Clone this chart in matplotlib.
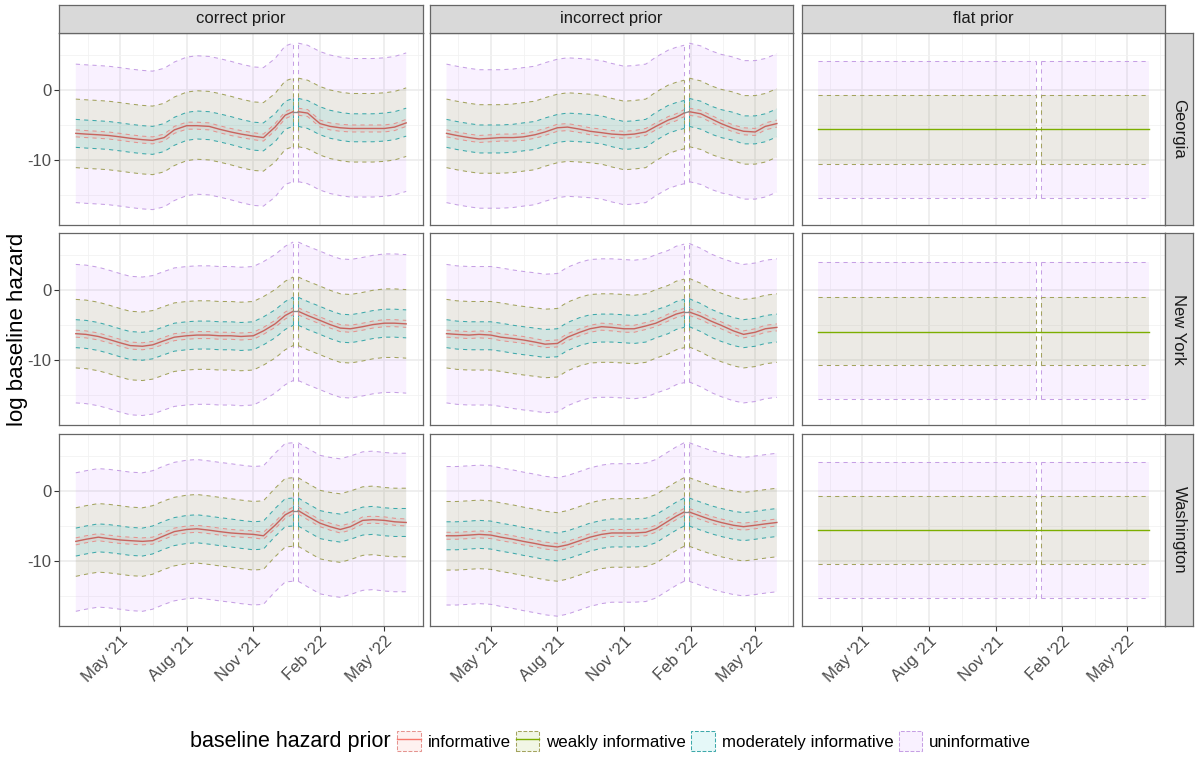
import matplotlib
matplotlib.use('Agg')
import matplotlib.pyplot as plt
import matplotlib.dates as mdates
from matplotlib.patches import Patch
from matplotlib.lines import Line2D
from matplotlib.colors import to_rgba
from matplotlib.ticker import FixedLocator
import datetime as dt

plt.rcParams['font.family'] = ['Liberation Sans', 'DejaVu Sans']
plt.rcParams['axes.unicode_minus'] = False

# ---------------- text ----------------
col_titles = ['correct prior', 'incorrect prior', 'flat prior']
row_titles = ['Georgia', 'New York', 'Washington']
legend_labels = ['informative', 'weakly informative', 'moderately informative', 'uninformative']
legend_title = 'baseline hazard prior'
y_label = 'log baseline hazard'
y_ticks = [-10, 0]
y_minor = [-15, -5, 5]

# ---------------- dates ----------------
dates_correct = ['2021-03-01', '2021-03-15', '2021-04-01', '2021-04-15', '2021-05-01', '2021-05-15',
                 '2021-06-01', '2021-06-15', '2021-07-01', '2021-07-15', '2021-08-01', '2021-08-15',
                 '2021-09-01', '2021-09-15', '2021-10-01', '2021-10-15', '2021-11-01', '2021-11-15',
                 '2021-12-01', '2021-12-15', '2021-12-26',
                 '2022-01-02', '2022-01-15', '2022-02-01', '2022-02-15', '2022-03-01', '2022-03-15',
                 '2022-04-01', '2022-04-15', '2022-05-01', '2022-05-15', '2022-05-31']
gap_correct = 21
dates_incorrect = ['2021-03-01', '2021-03-15', '2021-04-01', '2021-04-15', '2021-05-01', '2021-05-15',
                   '2021-06-01', '2021-06-15', '2021-07-01', '2021-07-15', '2021-08-01', '2021-08-15',
                   '2021-09-01', '2021-09-15', '2021-10-01', '2021-10-15', '2021-11-01', '2021-11-15',
                   '2021-12-01', '2021-12-15', '2022-01-01', '2022-01-12', '2022-01-23',
                   '2022-01-30', '2022-02-15', '2022-03-01', '2022-03-15', '2022-04-01', '2022-04-15',
                   '2022-05-01', '2022-05-15', '2022-05-31']
gap_incorrect = 23
dates_flat = ['2021-03-01', '2021-12-26', '2022-01-02', '2022-05-31']
gap_flat = 2

# ---------------- Georgia, correct prior ----------------
ga_cor_median = [-6.2,-6.3,-6.4,-6.5,-6.7,-6.9,-7.1,-7.2,-6.8,-5.7,-5.1,-5.1,-5.2,-5.6,-6.0,-6.3,-6.6,-6.8,-5.3,-3.6,-3.1,
                 -3.1,-3.3,-4.8,-5.2,-5.4,-5.5,-5.5,-5.5,-5.5,-5.3,-4.7]
ga_cor_inf_hi = [-5.7,-5.8,-5.9,-6.0,-6.2,-6.4,-6.6,-6.7,-6.3,-5.2,-4.6,-4.6,-4.7,-5.1,-5.5,-5.8,-6.1,-6.3,-4.8,-3.1,-2.6,
                 -2.6,-2.8,-4.3,-4.7,-4.9,-5.0,-5.0,-5.0,-5.0,-4.8,-4.2]
ga_cor_inf_lo = [-6.7,-6.8,-6.9,-7.0,-7.2,-7.4,-7.6,-7.7,-7.3,-6.2,-5.6,-5.6,-5.7,-6.1,-6.5,-6.8,-7.1,-7.3,-5.8,-4.1,-3.6,
                 -3.6,-3.8,-5.3,-5.7,-5.9,-6.0,-6.0,-6.0,-6.0,-5.8,-5.2]
ga_cor_mod_hi = [-4.2,-4.3,-4.4,-4.5,-4.7,-4.9,-5.1,-5.2,-4.8,-3.9,-3.2,-3.0,-3.1,-3.4,-3.8,-4.2,-4.6,-4.7,-3.4,-1.6,-1.2,
                 -1.2,-1.5,-2.4,-2.9,-3.2,-3.4,-3.4,-3.4,-3.3,-3.1,-2.6]
ga_cor_mod_lo = [-8.2,-8.3,-8.4,-8.5,-8.7,-8.9,-9.1,-9.2,-8.8,-7.9,-7.2,-7.0,-7.1,-7.4,-7.8,-8.2,-8.6,-8.7,-7.4,-5.6,-5.2,
                 -5.2,-5.5,-6.4,-6.9,-7.2,-7.4,-7.4,-7.4,-7.3,-7.1,-6.6]
ga_cor_weak_hi = [-1.3,-1.4,-1.5,-1.6,-1.8,-2.0,-2.2,-2.3,-1.9,-1.0,-0.3,-0.1,-0.2,-0.5,-0.9,-1.3,-1.7,-1.8,-0.5,1.3,1.7,
                  1.7,1.4,0.5,0.0,-0.3,-0.5,-0.5,-0.5,-0.4,-0.2,0.3]
ga_cor_weak_lo = [-11.1,-11.2,-11.3,-11.4,-11.6,-11.8,-12.0,-12.1,-11.7,-10.8,-10.1,-9.9,-10.0,-10.3,-10.7,-11.1,-11.5,-11.6,-10.3,-8.5,-8.1,
                  -8.1,-8.4,-9.3,-9.8,-10.1,-10.3,-10.3,-10.3,-10.2,-10.0,-9.5]
ga_cor_unif_hi = [3.7,3.6,3.5,3.4,3.2,3.0,2.8,2.7,3.1,4.0,4.7,4.9,4.8,4.5,4.1,3.7,3.3,3.2,4.5,6.3,6.7,
                  6.7,6.4,5.5,5.0,4.7,4.5,4.5,4.5,4.6,4.8,5.3]
ga_cor_unif_lo = [-16.1,-16.2,-16.3,-16.4,-16.6,-16.8,-17.0,-17.1,-16.7,-15.8,-15.1,-14.9,-15.0,-15.3,-15.7,-16.1,-16.5,-16.6,-15.3,-13.5,-13.1,
                  -13.1,-13.4,-14.3,-14.8,-15.1,-15.3,-15.3,-15.3,-15.2,-15.0,-14.5]

# ---------------- Georgia, incorrect prior ----------------
ga_inc_median = [-6.2,-6.5,-6.8,-7.0,-6.9,-6.8,-6.8,-6.7,-6.4,-6.0,-5.4,-5.3,-5.6,-5.9,-6.1,-6.3,-6.4,-6.3,-6.0,-5.2,-4.3,-3.9,-3.3,
                 -3.1,-3.4,-4.1,-4.8,-5.5,-5.9,-6.0,-5.2,-4.8]
ga_inc_inf_hi = [-5.7,-6.0,-6.3,-6.5,-6.4,-6.3,-6.3,-6.2,-5.9,-5.5,-4.9,-4.8,-5.1,-5.4,-5.6,-5.8,-5.9,-5.8,-5.5,-4.7,-3.8,-3.4,-2.8,
                 -2.6,-2.9,-3.6,-4.3,-5.0,-5.4,-5.5,-4.7,-4.3]
ga_inc_inf_lo = [-6.7,-7.0,-7.3,-7.5,-7.4,-7.3,-7.3,-7.2,-6.9,-6.5,-5.9,-5.8,-6.1,-6.4,-6.6,-6.8,-6.9,-6.8,-6.5,-5.7,-4.8,-4.4,-3.8,
                 -3.6,-3.9,-4.6,-5.3,-6.0,-6.4,-6.5,-5.7,-5.3]
ga_inc_mod_hi = [-4.2,-4.5,-4.8,-5.0,-5.0,-5.0,-4.9,-4.7,-4.5,-4.0,-3.5,-3.3,-3.4,-3.5,-3.7,-4.1,-4.5,-4.4,-4.2,-3.2,-2.2,-1.8,-1.5,
                 -1.2,-1.6,-2.3,-2.8,-3.2,-3.7,-3.7,-3.4,-2.7]
ga_inc_mod_lo = [-8.2,-8.5,-8.8,-9.0,-9.0,-9.0,-8.9,-8.7,-8.5,-8.0,-7.5,-7.3,-7.4,-7.5,-7.7,-8.1,-8.5,-8.4,-8.2,-7.2,-6.2,-5.8,-5.5,
                 -5.2,-5.6,-6.3,-6.8,-7.2,-7.7,-7.7,-7.4,-6.7]
ga_inc_weak_hi = [-1.3,-1.6,-1.9,-2.1,-2.1,-2.1,-2.0,-1.8,-1.6,-1.1,-0.6,-0.4,-0.5,-0.6,-0.8,-1.2,-1.6,-1.5,-1.3,-0.3,0.7,1.1,1.4,
                  1.7,1.3,0.6,0.1,-0.3,-0.8,-0.8,-0.5,0.2]
ga_inc_weak_lo = [-11.1,-11.4,-11.7,-11.9,-11.9,-11.9,-11.8,-11.6,-11.4,-10.9,-10.4,-10.2,-10.3,-10.4,-10.6,-11.0,-11.4,-11.3,-11.1,-10.1,-9.1,-8.7,-8.4,
                  -8.1,-8.5,-9.2,-9.7,-10.1,-10.6,-10.6,-10.3,-9.6]
ga_inc_unif_hi = [3.7,3.4,3.1,2.9,2.9,2.9,3.0,3.2,3.4,3.9,4.4,4.6,4.5,4.4,4.2,3.8,3.4,3.5,3.7,4.7,5.7,6.1,6.4,
                  6.7,6.3,5.6,5.1,4.7,4.2,4.2,4.5,5.2]
ga_inc_unif_lo = [-16.1,-16.4,-16.7,-16.9,-16.9,-16.9,-16.8,-16.6,-16.4,-15.9,-15.4,-15.2,-15.3,-15.4,-15.6,-16.0,-16.4,-16.3,-16.1,-15.1,-14.1,-13.7,-13.4,
                  -13.1,-13.5,-14.2,-14.7,-15.1,-15.6,-15.6,-15.3,-14.6]

# ---------------- New York, correct prior ----------------
ny_cor_median = [-6.2,-6.3,-6.6,-7.0,-7.5,-7.9,-8.0,-7.8,-7.2,-6.7,-6.5,-6.4,-6.4,-6.5,-6.5,-6.6,-6.5,-5.8,-4.8,-3.6,-3.0,
                 -3.0,-3.6,-4.3,-4.9,-5.4,-5.5,-5.2,-4.9,-4.7,-4.7,-4.8]
ny_cor_inf_hi = [-5.7,-5.8,-6.1,-6.5,-7.0,-7.4,-7.5,-7.3,-6.7,-6.2,-6.0,-5.9,-5.9,-6.0,-6.0,-6.1,-6.0,-5.3,-4.3,-3.1,-2.5,
                 -2.5,-3.1,-3.8,-4.4,-4.9,-5.0,-4.7,-4.4,-4.2,-4.2,-4.3]
ny_cor_inf_lo = [-6.7,-6.8,-7.1,-7.5,-8.0,-8.4,-8.5,-8.3,-7.7,-7.2,-7.0,-6.9,-6.9,-7.0,-7.0,-7.1,-7.0,-6.3,-5.3,-4.1,-3.5,
                 -3.5,-4.1,-4.8,-5.4,-5.9,-6.0,-5.7,-5.4,-5.2,-5.2,-5.3]
ny_cor_mod_hi = [-4.2,-4.3,-4.6,-5.0,-5.5,-5.9,-6.0,-5.8,-5.2,-4.7,-4.5,-4.4,-4.4,-4.5,-4.5,-4.6,-4.5,-3.8,-2.8,-1.6,-1.0,
                 -1.0,-1.6,-2.3,-2.9,-3.4,-3.5,-3.2,-2.9,-2.7,-2.7,-2.8]
ny_cor_mod_lo = [-8.2,-8.3,-8.6,-9.0,-9.5,-9.9,-10.0,-9.8,-9.2,-8.7,-8.5,-8.4,-8.4,-8.5,-8.5,-8.6,-8.5,-7.8,-6.8,-5.6,-5.0,
                 -5.0,-5.6,-6.3,-6.9,-7.4,-7.5,-7.2,-6.9,-6.7,-6.7,-6.8]
ny_cor_weak_hi = [-1.3,-1.4,-1.7,-2.1,-2.6,-3.0,-3.1,-2.9,-2.3,-1.8,-1.6,-1.5,-1.5,-1.6,-1.6,-1.7,-1.6,-0.9,0.1,1.3,1.9,
                  1.9,1.3,0.6,0.0,-0.5,-0.6,-0.3,0.0,0.2,0.2,0.1]
ny_cor_weak_lo = [-11.1,-11.2,-11.5,-11.9,-12.4,-12.8,-12.9,-12.7,-12.1,-11.6,-11.4,-11.3,-11.3,-11.4,-11.4,-11.5,-11.4,-10.7,-9.7,-8.5,-7.9,
                  -7.9,-8.5,-9.2,-9.8,-10.3,-10.4,-10.1,-9.8,-9.6,-9.6,-9.7]
ny_cor_unif_hi = [3.7,3.6,3.3,2.9,2.4,2.0,1.9,2.1,2.7,3.2,3.4,3.5,3.5,3.4,3.4,3.3,3.4,4.1,5.1,6.3,6.9,
                  6.9,6.3,5.6,5.0,4.5,4.4,4.7,5.0,5.2,5.2,5.1]
ny_cor_unif_lo = [-16.1,-16.2,-16.5,-16.9,-17.4,-17.8,-17.9,-17.7,-17.1,-16.6,-16.4,-16.3,-16.3,-16.4,-16.4,-16.5,-16.4,-15.7,-14.7,-13.5,-12.9,
                  -12.9,-13.5,-14.2,-14.8,-15.3,-15.4,-15.1,-14.8,-14.6,-14.6,-14.7]

# ---------------- New York, incorrect prior ----------------
ny_inc_median = [-6.2,-6.3,-6.4,-6.3,-6.4,-6.7,-6.9,-7.1,-7.4,-7.7,-7.6,-6.7,-6.0,-5.5,-5.2,-5.3,-5.5,-5.5,-5.1,-4.7,-3.9,-3.4,-3.1,
                 -3.1,-3.7,-4.4,-5.0,-5.8,-6.3,-6.0,-5.5,-5.3]
ny_inc_inf_hi = [-5.7,-5.8,-5.9,-5.8,-5.9,-6.2,-6.4,-6.6,-6.9,-7.2,-7.1,-6.2,-5.5,-5.0,-4.7,-4.8,-5.0,-5.0,-4.6,-4.2,-3.4,-2.9,-2.6,
                 -2.6,-3.2,-3.9,-4.5,-5.3,-5.8,-5.5,-5.0,-4.8]
ny_inc_inf_lo = [-6.7,-6.8,-6.9,-6.8,-6.9,-7.2,-7.4,-7.6,-7.9,-8.2,-8.1,-7.2,-6.5,-6.0,-5.7,-5.8,-6.0,-6.0,-5.6,-5.2,-4.4,-3.9,-3.6,
                 -3.6,-4.2,-4.9,-5.5,-6.3,-6.8,-6.5,-6.0,-5.8]
ny_inc_mod_hi = [-4.2,-4.4,-4.5,-4.5,-4.5,-4.7,-5.0,-5.2,-5.4,-5.6,-5.5,-4.6,-3.9,-3.5,-3.4,-3.4,-3.5,-3.6,-3.4,-2.8,-2.2,-1.6,-1.3,
                 -1.2,-1.9,-2.7,-3.3,-3.9,-4.2,-4.0,-3.6,-3.4]
ny_inc_mod_lo = [-8.2,-8.4,-8.5,-8.5,-8.5,-8.7,-9.0,-9.2,-9.4,-9.6,-9.5,-8.6,-7.9,-7.5,-7.4,-7.4,-7.5,-7.6,-7.4,-6.8,-6.2,-5.6,-5.3,
                 -5.2,-5.9,-6.7,-7.3,-7.9,-8.2,-8.0,-7.6,-7.4]
ny_inc_weak_hi = [-1.3,-1.5,-1.6,-1.6,-1.6,-1.8,-2.1,-2.3,-2.5,-2.7,-2.6,-1.7,-1.0,-0.6,-0.5,-0.5,-0.6,-0.7,-0.5,0.1,0.7,1.3,1.6,
                  1.7,1.0,0.2,-0.4,-1.0,-1.3,-1.1,-0.7,-0.5]
ny_inc_weak_lo = [-11.1,-11.3,-11.4,-11.4,-11.4,-11.6,-11.9,-12.1,-12.3,-12.5,-12.4,-11.5,-10.8,-10.4,-10.3,-10.3,-10.4,-10.5,-10.3,-9.7,-9.1,-8.5,-8.2,
                  -8.1,-8.8,-9.6,-10.2,-10.8,-11.1,-10.9,-10.5,-10.3]
ny_inc_unif_hi = [3.7,3.5,3.4,3.4,3.4,3.2,2.9,2.7,2.5,2.3,2.4,3.3,4.0,4.4,4.5,4.5,4.4,4.3,4.5,5.1,5.7,6.3,6.6,
                  6.7,6.0,5.2,4.6,4.0,3.7,3.9,4.3,4.5]
ny_inc_unif_lo = [-16.1,-16.3,-16.4,-16.4,-16.4,-16.6,-16.9,-17.1,-17.3,-17.5,-17.4,-16.5,-15.8,-15.4,-15.3,-15.3,-15.4,-15.5,-15.3,-14.7,-14.1,-13.5,-13.2,
                  -13.1,-13.8,-14.6,-15.2,-15.8,-16.1,-15.9,-15.5,-15.3]

# ---------------- Washington, correct prior ----------------
wa_cor_median = [-7.2,-6.9,-6.6,-6.8,-7.0,-7.1,-7.2,-7.1,-6.4,-5.8,-5.5,-5.4,-5.6,-5.8,-6.0,-6.1,-6.2,-6.4,-4.9,-3.4,-2.8,
                 -2.8,-3.6,-4.6,-5.1,-5.5,-5.1,-4.2,-4.1,-4.2,-4.4,-4.5]
wa_cor_inf_hi = [-6.7,-6.4,-6.1,-6.3,-6.5,-6.6,-6.7,-6.6,-5.9,-5.3,-5.0,-4.9,-5.1,-5.3,-5.5,-5.6,-5.7,-5.9,-4.4,-2.9,-2.3,
                 -2.3,-3.1,-4.1,-4.6,-5.0,-4.6,-3.7,-3.6,-3.7,-3.9,-4.0]
wa_cor_inf_lo = [-7.7,-7.4,-7.1,-7.3,-7.5,-7.6,-7.7,-7.6,-6.9,-6.3,-6.0,-5.9,-6.1,-6.3,-6.5,-6.6,-6.7,-6.9,-5.4,-3.9,-3.3,
                 -3.3,-4.1,-5.1,-5.6,-6.0,-5.6,-4.7,-4.6,-4.7,-4.9,-5.0]
wa_cor_mod_hi = [-5.3,-5.0,-4.7,-4.8,-5.0,-5.2,-5.3,-5.0,-4.3,-3.8,-3.5,-3.4,-3.6,-3.8,-4.0,-4.2,-4.4,-4.3,-2.5,-1.1,-1.0,
                 -1.0,-1.8,-2.8,-3.1,-3.3,-2.9,-2.3,-2.2,-2.4,-2.5,-2.5]
wa_cor_mod_lo = [-9.3,-9.0,-8.7,-8.8,-9.0,-9.2,-9.3,-9.0,-8.3,-7.8,-7.5,-7.4,-7.6,-7.8,-8.0,-8.2,-8.4,-8.3,-6.5,-5.1,-5.0,
                 -5.0,-5.8,-6.8,-7.1,-7.3,-6.9,-6.3,-6.2,-6.4,-6.5,-6.5]
wa_cor_weak_hi = [-2.4,-2.1,-1.8,-1.9,-2.1,-2.3,-2.4,-2.1,-1.4,-0.9,-0.6,-0.5,-0.7,-0.9,-1.1,-1.3,-1.5,-1.4,0.4,1.8,1.9,
                  1.9,1.1,0.1,-0.2,-0.4,0.0,0.6,0.7,0.5,0.4,0.4]
wa_cor_weak_lo = [-12.2,-11.9,-11.6,-11.7,-11.9,-12.1,-12.2,-11.9,-11.2,-10.7,-10.4,-10.3,-10.5,-10.7,-10.9,-11.1,-11.3,-11.2,-9.4,-8.0,-7.9,
                  -7.9,-8.7,-9.7,-10.0,-10.2,-9.8,-9.2,-9.1,-9.3,-9.4,-9.4]
wa_cor_unif_hi = [2.6,2.9,3.2,3.1,2.9,2.7,2.6,2.9,3.6,4.1,4.4,4.5,4.3,4.1,3.9,3.7,3.5,3.6,5.4,6.8,6.9,
                  6.9,6.1,5.1,4.8,4.6,5.0,5.6,5.7,5.5,5.4,5.4]
wa_cor_unif_lo = [-17.2,-16.9,-16.6,-16.7,-16.9,-17.1,-17.2,-16.9,-16.2,-15.7,-15.4,-15.3,-15.5,-15.7,-15.9,-16.1,-16.3,-16.2,-14.4,-13.0,-12.9,
                  -12.9,-13.7,-14.7,-15.0,-15.2,-14.8,-14.2,-14.1,-14.3,-14.4,-14.4]

# ---------------- Washington, incorrect prior ----------------
wa_inc_median = [-6.4,-6.4,-6.3,-6.2,-6.3,-6.6,-6.9,-7.2,-7.5,-7.8,-8.0,-7.7,-7.1,-6.6,-6.2,-6.0,-6.0,-6.0,-5.9,-5.4,-4.3,-3.6,-3.0,
                 -3.0,-3.6,-4.1,-4.5,-4.9,-5.1,-4.9,-4.7,-4.5]
wa_inc_inf_hi = [-5.9,-5.9,-5.8,-5.7,-5.8,-6.1,-6.4,-6.7,-7.0,-7.3,-7.5,-7.2,-6.6,-6.1,-5.7,-5.5,-5.5,-5.5,-5.4,-4.9,-3.8,-3.1,-2.5,
                 -2.5,-3.1,-3.6,-4.0,-4.4,-4.6,-4.4,-4.2,-4.0]
wa_inc_inf_lo = [-6.9,-6.9,-6.8,-6.7,-6.8,-7.1,-7.4,-7.7,-8.0,-8.3,-8.5,-8.2,-7.6,-7.1,-6.7,-6.5,-6.5,-6.5,-6.4,-5.9,-4.8,-4.1,-3.5,
                 -3.5,-4.1,-4.6,-5.0,-5.4,-5.6,-5.4,-5.2,-5.0]
wa_inc_mod_hi = [-4.4,-4.4,-4.3,-4.2,-4.3,-4.6,-4.9,-5.2,-5.5,-5.8,-6.0,-5.7,-5.1,-4.6,-4.2,-4.0,-4.0,-4.0,-3.9,-3.4,-2.3,-1.6,-1.0,
                 -1.0,-1.6,-2.1,-2.5,-2.9,-3.1,-2.9,-2.7,-2.5]
wa_inc_mod_lo = [-8.4,-8.4,-8.3,-8.2,-8.3,-8.6,-8.9,-9.2,-9.5,-9.8,-10.0,-9.7,-9.1,-8.6,-8.2,-8.0,-8.0,-8.0,-7.9,-7.4,-6.3,-5.6,-5.0,
                 -5.0,-5.6,-6.1,-6.5,-6.9,-7.1,-6.9,-6.7,-6.5]
wa_inc_weak_hi = [-1.5,-1.5,-1.4,-1.3,-1.4,-1.7,-2.0,-2.3,-2.6,-2.9,-3.1,-2.8,-2.2,-1.7,-1.3,-1.1,-1.1,-1.1,-1.0,-0.5,0.6,1.3,1.9,
                  1.9,1.3,0.8,0.4,0.0,-0.2,0.0,0.2,0.4]
wa_inc_weak_lo = [-11.3,-11.3,-11.2,-11.1,-11.2,-11.5,-11.8,-12.1,-12.4,-12.7,-12.9,-12.6,-12.0,-11.5,-11.1,-10.9,-10.9,-10.9,-10.8,-10.3,-9.2,-8.5,-7.9,
                  -7.9,-8.5,-9.0,-9.4,-9.8,-10.0,-9.8,-9.6,-9.4]
wa_inc_unif_hi = [3.5,3.5,3.6,3.7,3.6,3.3,3.0,2.7,2.4,2.1,1.9,2.2,2.8,3.3,3.7,3.9,3.9,3.9,4.0,4.5,5.6,6.3,6.9,
                  6.9,6.3,5.8,5.4,5.0,4.8,5.0,5.2,5.4]
wa_inc_unif_lo = [-16.3,-16.3,-16.2,-16.1,-16.2,-16.5,-16.8,-17.1,-17.4,-17.7,-17.9,-17.6,-17.0,-16.5,-16.1,-15.9,-15.9,-15.9,-15.8,-15.3,-14.2,-13.5,-12.9,
                  -12.9,-13.5,-14.0,-14.4,-14.8,-15.0,-14.8,-14.6,-14.4]

# ---------------- flat prior (constant) ----------------
ga_flat_median = [-5.6, -5.6, -5.6, -5.6]
ga_flat_weak_hi = [-0.7, -0.7, -0.7, -0.7]
ga_flat_weak_lo = [-10.6, -10.6, -10.6, -10.6]
ga_flat_unif_hi = [4.2, 4.2, 4.2, 4.2]
ga_flat_unif_lo = [-15.5, -15.5, -15.5, -15.5]
ny_flat_median = [-5.9, -5.9, -5.9, -5.9]
ny_flat_weak_hi = [-1.0, -1.0, -1.0, -1.0]
ny_flat_weak_lo = [-10.7, -10.7, -10.7, -10.7]
ny_flat_unif_hi = [4.1, 4.1, 4.1, 4.1]
ny_flat_unif_lo = [-15.6, -15.6, -15.6, -15.6]
wa_flat_median = [-5.6, -5.6, -5.6, -5.6]
wa_flat_weak_hi = [-0.7, -0.7, -0.7, -0.7]
wa_flat_weak_lo = [-10.4, -10.4, -10.4, -10.4]
wa_flat_unif_hi = [4.2, 4.2, 4.2, 4.2]
wa_flat_unif_lo = [-15.3, -15.3, -15.3, -15.3]

# ---------------- styling ----------------
C_INF, C_WEAK, C_MOD, C_UNIF = '#F8766D', '#7CAE00', '#00BFC4', '#C77CFF'
E_INF, E_WEAK, E_MOD, E_UNIF = '#E59490', '#A3A35E', '#3EA9AB', '#C6A0E4'
FILL_A = 0.10
DASH = (0, (4, 4))
MED_RED = '#C8645E'


def to_x(dlist):
    return mdates.date2num([dt.datetime.strptime(d, '%Y-%m-%d') for d in dlist])


def band(ax, x, lo, hi, gap, color, edge, z=1.0):
    fc = to_rgba(color, FILL_A)
    for a, b in ((0, gap), (gap, len(x))):
        xs, l, h = x[a:b], lo[a:b], hi[a:b]
        ax.fill_between(xs, l, h, facecolor=fc, edgecolor='none', lw=0, zorder=z)
        ax.plot(xs, h, color=edge, lw=0.75, ls=DASH, zorder=z + 0.5)
        ax.plot(xs, l, color=edge, lw=0.75, ls=DASH, zorder=z + 0.5)
    for i in (gap - 1, gap):
        ax.plot([x[i], x[i]], [lo[i], hi[i]], color=edge, lw=0.75, ls=DASH, zorder=z + 0.5)


W, H = 1200, 767
fig = plt.figure(figsize=(W / 100, H / 100), dpi=100)

col_left = [59.3, 430.0, 801.7]
pan_w = 363.4
row_top = [33.0, 233.3, 434.0]
pan_h = 192.0

x_cor = to_x(dates_correct)
x_inc = to_x(dates_incorrect)
x_flat = to_x(dates_flat)
xmin_all = min(x_cor[0], x_inc[0])
xmax_all = max(x_cor[-1], x_inc[-1])
xpad = 0.05 * (xmax_all - xmin_all)
ylim = (-19.3, 8.15)

panels = {
    (0, 0): dict(x=x_cor, gap=gap_correct, med=ga_cor_median, inf=(ga_cor_inf_lo, ga_cor_inf_hi), mod=(ga_cor_mod_lo, ga_cor_mod_hi),
                 weak=(ga_cor_weak_lo, ga_cor_weak_hi), unif=(ga_cor_unif_lo, ga_cor_unif_hi)),
    (0, 1): dict(x=x_inc, gap=gap_incorrect, med=ga_inc_median, inf=(ga_inc_inf_lo, ga_inc_inf_hi), mod=(ga_inc_mod_lo, ga_inc_mod_hi),
                 weak=(ga_inc_weak_lo, ga_inc_weak_hi), unif=(ga_inc_unif_lo, ga_inc_unif_hi)),
    (1, 0): dict(x=x_cor, gap=gap_correct, med=ny_cor_median, inf=(ny_cor_inf_lo, ny_cor_inf_hi), mod=(ny_cor_mod_lo, ny_cor_mod_hi),
                 weak=(ny_cor_weak_lo, ny_cor_weak_hi), unif=(ny_cor_unif_lo, ny_cor_unif_hi)),
    (1, 1): dict(x=x_inc, gap=gap_incorrect, med=ny_inc_median, inf=(ny_inc_inf_lo, ny_inc_inf_hi), mod=(ny_inc_mod_lo, ny_inc_mod_hi),
                 weak=(ny_inc_weak_lo, ny_inc_weak_hi), unif=(ny_inc_unif_lo, ny_inc_unif_hi)),
    (2, 0): dict(x=x_cor, gap=gap_correct, med=wa_cor_median, inf=(wa_cor_inf_lo, wa_cor_inf_hi), mod=(wa_cor_mod_lo, wa_cor_mod_hi),
                 weak=(wa_cor_weak_lo, wa_cor_weak_hi), unif=(wa_cor_unif_lo, wa_cor_unif_hi)),
    (2, 1): dict(x=x_inc, gap=gap_incorrect, med=wa_inc_median, inf=(wa_inc_inf_lo, wa_inc_inf_hi), mod=(wa_inc_mod_lo, wa_inc_mod_hi),
                 weak=(wa_inc_weak_lo, wa_inc_weak_hi), unif=(wa_inc_unif_lo, wa_inc_unif_hi)),
    (0, 2): dict(x=x_flat, gap=gap_flat, med=ga_flat_median, weak=(ga_flat_weak_lo, ga_flat_weak_hi), unif=(ga_flat_unif_lo, ga_flat_unif_hi)),
    (1, 2): dict(x=x_flat, gap=gap_flat, med=ny_flat_median, weak=(ny_flat_weak_lo, ny_flat_weak_hi), unif=(ny_flat_unif_lo, ny_flat_unif_hi)),
    (2, 2): dict(x=x_flat, gap=gap_flat, med=wa_flat_median, weak=(wa_flat_weak_lo, wa_flat_weak_hi), unif=(wa_flat_unif_lo, wa_flat_unif_hi)),
}

major_loc = mdates.MonthLocator(bymonth=[2, 5, 8, 11])
fmt = mdates.DateFormatter("%b '%y")
maj_dates = major_loc.tick_values(mdates.num2date(xmin_all - 200), mdates.num2date(xmax_all + 200))
minor_pos = [(a + b) / 2 for a, b in zip(maj_dates[:-1], maj_dates[1:])]

for r in range(3):
    for c in range(3):
        left = col_left[c] / W
        bottom = 1 - (row_top[r] + pan_h) / H
        ax = fig.add_axes([left, bottom, pan_w / W, pan_h / H])
        ax.set_facecolor('white')
        p = panels[(r, c)]
        x = p['x']
        g = p['gap']
        band(ax, x, p['unif'][0], p['unif'][1], g, C_UNIF, E_UNIF, z=1.0)
        band(ax, x, p['weak'][0], p['weak'][1], g, C_WEAK, E_WEAK, z=2.0)
        if c < 2:
            band(ax, x, p['mod'][0], p['mod'][1], g, C_MOD, E_MOD, z=3.0)
            band(ax, x, p['inf'][0], p['inf'][1], g, C_INF, E_INF, z=4.0)
            med = p['med']
            ax.plot(x[:g], med[:g], color=MED_RED, lw=1.0, zorder=6)
            ax.plot(x[g:], med[g:], color=MED_RED, lw=1.0, zorder=6)
            ax.plot([x[g - 1], x[g]], [med[g - 1], med[g]], color='#8C8C8C', lw=1.0, zorder=6)
        else:
            ax.plot(x, p['med'], color=C_WEAK, lw=1.0, zorder=6)

        ax.set_xlim(xmin_all - xpad, xmax_all + xpad)
        ax.set_ylim(*ylim)
        ax.xaxis.set_major_locator(major_loc)
        ax.xaxis.set_major_formatter(fmt)
        ax.xaxis.set_minor_locator(FixedLocator(minor_pos))
        ax.yaxis.set_major_locator(FixedLocator(y_ticks))
        ax.yaxis.set_minor_locator(FixedLocator(y_minor))
        ax.grid(which='major', color='#EBEBEB', lw=1.1, zorder=0)
        ax.grid(which='minor', color='#F2F2F2', lw=0.6, zorder=0)
        ax.set_axisbelow(True)
        for s in ax.spines.values():
            s.set_color('#666666')
            s.set_linewidth(0.9)
            s.set_zorder(10)
        ax.tick_params(which='minor', length=0)
        ax.tick_params(which='major', length=3.6, width=0.8, color='#333333',
                       labelsize=12, labelcolor='#4D4D4D', pad=2)
        if c != 0:
            ax.tick_params(axis='y', which='major', length=0, labelleft=False)
        if r != 2:
            ax.tick_params(axis='x', which='major', length=0, labelbottom=False)
        else:
            for lab in ax.get_xticklabels():
                lab.set_rotation(45)
                lab.set_ha('right')
                lab.set_va('top')
                lab.set_rotation_mode('anchor')

# strips
for c in range(3):
    sax = fig.add_axes([col_left[c] / W, 1 - 33.0 / H, pan_w / W, 28.0 / H])
    sax.set_facecolor('#D9D9D9')
    sax.set_xticks([]); sax.set_yticks([])
    for s in sax.spines.values():
        s.set_color('#666666'); s.set_linewidth(0.9)
    sax.text(0.5, 0.5, col_titles[c], ha='center', va='center', fontsize=12, color='#1A1A1A',
             transform=sax.transAxes)
for r in range(3):
    sax = fig.add_axes([1165.0 / W, 1 - (row_top[r] + pan_h) / H, 28.0 / W, pan_h / H])
    sax.set_facecolor('#D9D9D9')
    sax.set_xticks([]); sax.set_yticks([])
    for s in sax.spines.values():
        s.set_color('#666666'); s.set_linewidth(0.9)
    sax.text(0.5, 0.5, row_titles[r], ha='center', va='center', fontsize=12, color='#1A1A1A',
             rotation=-90, transform=sax.transAxes)

fig.text(18 / W, 1 - 329.5 / H, y_label, rotation=90, ha='center', va='center', fontsize=16, color='black')

# legend
colors = [C_INF, C_WEAK, C_MOD, C_UNIF]
edges = [E_INF, E_WEAK, E_MOD, E_UNIF]
has_line = [True, True, False, False]
handles = []
for col, ec, hl in zip(colors, edges, has_line):
    patch = Patch(facecolor=to_rgba(col, FILL_A), edgecolor=ec, linestyle='--', lw=0.75)
    if hl:
        handles.append((patch, Line2D([], [], color=col, lw=1.0)))
    else:
        handles.append(patch)
fig.text(190 / W, 1 - 741 / H, legend_title, ha='left', va='center', fontsize=15.5, color='black')
fig.legend(handles, legend_labels, loc='center left', bbox_to_anchor=(397 / W, 1 - 741 / H), ncol=4,
           frameon=False, fontsize=12.2, handlelength=1.4, handleheight=1.5, handletextpad=0.4,
           columnspacing=0.3, borderpad=0, borderaxespad=0)

fig.savefig('out.png', dpi=100)
